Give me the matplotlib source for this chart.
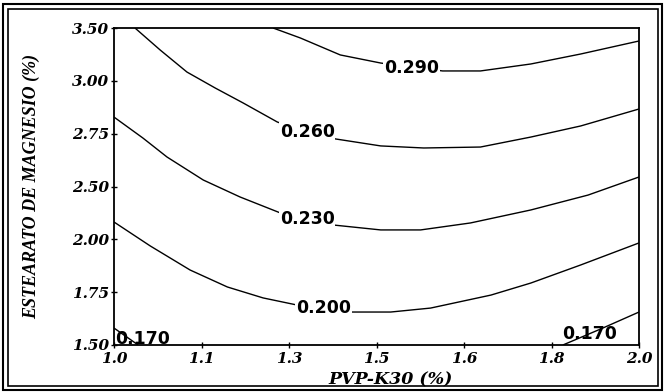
import matplotlib
matplotlib.use("Agg")
import matplotlib.pyplot as plt
from matplotlib.patches import Rectangle

# Contour lines (x = PVP-K30 %, y = Estearato de magnesio %)
c290_x = [1.303, 1.355, 1.431, 1.508, 1.565, 1.626, 1.698, 1.794, 1.889, 2.000]
c290_y = [3.500, 3.437, 3.330, 3.279, 3.254, 3.229, 3.229, 3.273, 3.336, 3.418]

c260_x = [1.040, 1.088, 1.139, 1.193, 1.246, 1.311, 1.365, 1.422, 1.508, 1.590, 1.698, 1.794, 1.889, 2.000]
c260_y = [3.500, 3.361, 3.222, 3.121, 3.027, 2.907, 2.844, 2.800, 2.756, 2.743, 2.749, 2.812, 2.882, 2.989]

c230_x = [1.000, 1.055, 1.101, 1.170, 1.240, 1.317, 1.365, 1.418, 1.508, 1.584, 1.679, 1.794, 1.903, 2.000]
c230_y = [2.938, 2.806, 2.686, 2.541, 2.434, 2.333, 2.289, 2.257, 2.226, 2.226, 2.270, 2.352, 2.446, 2.560]

c200_x = [1.000, 1.069, 1.145, 1.216, 1.284, 1.349, 1.403, 1.450, 1.527, 1.603, 1.718, 1.794, 1.889, 2.000]
c200_y = [2.276, 2.125, 1.973, 1.866, 1.797, 1.752, 1.727, 1.708, 1.708, 1.733, 1.815, 1.891, 2.005, 2.144]

c170a_x = [1.000, 1.046]
c170a_y = [1.607, 1.500]
c170b_x = [1.855, 1.927, 2.000]
c170b_y = [1.500, 1.601, 1.708]

# contour labels: text, x, y
lab_text = ["0.290", "0.260", "0.230", "0.200", "0.170", "0.170"]
lab_x = [1.567, 1.368, 1.368, 1.399, 1.055, 1.906]
lab_y = [3.248, 2.844, 2.295, 1.733, 1.538, 1.569]
lab_box = [True, True, True, True, False, False]

xtick_pos = [1.0, 1 + 1/6, 1 + 2/6, 1.5, 1 + 4/6, 1 + 5/6, 2.0]
xtick_lab = ["1.0", "1.1", "1.3", "1.5", "1.6", "1.8", "2.0"]
ytick_pos = [1.5, 1.5 + 1/3, 1.5 + 2/3, 2.5, 2.5 + 1/3, 2.5 + 2/3, 3.5]
ytick_lab = ["1.50", "1.75", "2.00", "2.50", "2.75", "3.00", "3.50"]

W, H = 665, 392
fig = plt.figure(figsize=(W / 100, H / 100), dpi=100)
L, R, T, B = 114, 639, 28, 345
ax = fig.add_axes([L / W, (H - B) / H, (R - L) / W, (B - T) / H])
ax.set_xlim(1.0, 2.0)
ax.set_ylim(1.5, 3.5)

lw = 1.0
for xs, ys in [(c290_x, c290_y), (c260_x, c260_y), (c230_x, c230_y),
               (c200_x, c200_y), (c170a_x, c170a_y), (c170b_x, c170b_y)]:
    ax.plot(xs, ys, color="black", lw=lw, solid_capstyle="butt", solid_joinstyle="round")

for t, x, y, box in zip(lab_text, lab_x, lab_y, lab_box):
    kw = {}
    if box:
        kw["bbox"] = dict(facecolor="white", edgecolor="none", pad=0.5)
    ax.text(x, y, t, ha="center", va="center", fontsize=12.5,
            fontfamily="DejaVu Sans", fontweight="bold", zorder=4, **kw)

for s in ax.spines.values():
    s.set_linewidth(1.3)
    s.set_zorder(5)

tick_font = dict(family="DejaVu Serif", weight="bold", style="italic", size=11)
ax.set_xticks(xtick_pos)
ax.set_xticklabels(xtick_lab, fontdict=tick_font)
ax.set_yticks(ytick_pos)
ax.set_yticklabels(ytick_lab, fontdict=tick_font)
ax.tick_params(direction="inout", length=5, width=1.0)
ax.tick_params(axis="y", pad=1)
ax.tick_params(axis="x", pad=2.5)

fig.text(391 / W, 1 - 380 / H, "PVP-K30 (%)", ha="center", va="center",
         family="DejaVu Serif", weight="bold", style="italic", size=12.5)
fig.text(31 / W, 1 - 186 / H, "ESTEARATO DE MAGNESIO (%)", ha="center", va="center",
         rotation=90, family="Liberation Serif", weight="bold", style="italic", size=13)

# double outer frame
fig.patches.append(Rectangle((3 / W, 2 / H), 659 / W, 386 / H, transform=fig.transFigure,
                             fill=False, edgecolor="black", lw=1.5))
fig.patches.append(Rectangle((8 / W, 6 / H), 650 / W, 377 / H, transform=fig.transFigure,
                             fill=False, edgecolor="black", lw=1.2))

fig.savefig("out.png", dpi=100)
